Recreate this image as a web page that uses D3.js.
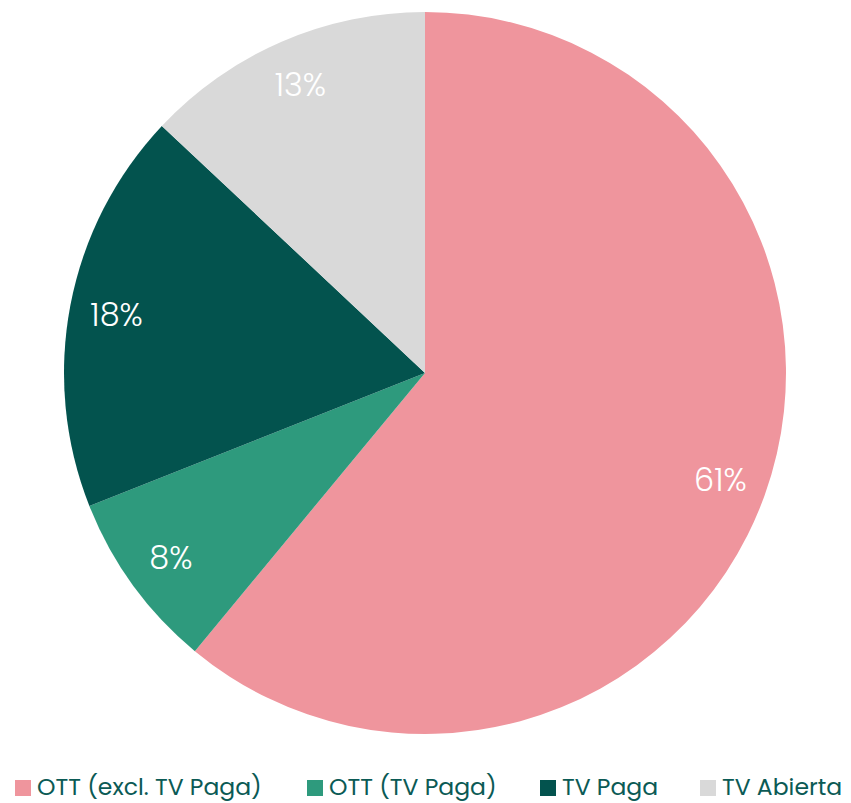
<!DOCTYPE html>
<html>
<head>
<meta charset="utf-8">
<script src="https://cdn.jsdelivr.net/npm/d3@7"></script>
<style>
  body { margin: 0; background: #fff; }
  svg { display: block; font-family: Poppins, Inter, 'Open Sans', sans-serif; }
</style>
</head>
<body>
<div class="canvas"></div>
<script>
// data
const categories = ['OTT (excl. TV Paga)', 'OTT (TV Paga)', 'TV Paga', 'TV Abierta']
const shares = [61, 8, 18, 13]
const colors = ['#ef959d', '#2e9a7d', '#03534e', '#d9d9d9']

const data = categories.map((name, i) => ({ name, value: shares[i] }))

const dims = { width: 851, height: 803, radius: 361 }
const center = { x: 425, y: 373 }

const svg = d3
  .select('.canvas')
  .append('svg')
  .attr('width', dims.width)
  .attr('height', dims.height)

const graph = svg
  .append('g')
  .attr('transform', `translate(${center.x}, ${center.y})`)

const colorScale = d3.scaleOrdinal().domain(categories).range(colors)

const pie = d3
  .pie()
  .sort(null)
  .value((d) => d.value)

const arcPath = d3.arc().innerRadius(0).outerRadius(dims.radius)
const labelArc = d3.arc().innerRadius(314).outerRadius(314)

const arcs = pie(data)

graph
  .selectAll('path')
  .data(arcs)
  .enter()
  .append('path')
  .attr('d', arcPath)
  .attr('fill', (d) => colorScale(d.data.name))

graph
  .selectAll('text.label')
  .data(arcs)
  .enter()
  .append('text')
  .attr('class', 'label')
  .attr('transform', (d) => `translate(${labelArc.centroid(d)})`)
  .attr('text-anchor', 'middle')
  .attr('dominant-baseline', 'central')
  .attr('fill', '#fff')
  .attr('font-size', 32)
  .attr('font-weight', 300)
  .text((d) => d.data.value + '%')

// legend
const legendX = [15, 307, 540, 700]
const legend = svg
  .append('g')
  .attr('transform', 'translate(0, 786)')

const items = legend
  .selectAll('g')
  .data(categories)
  .enter()
  .append('g')
  .attr('transform', (d, i) => `translate(${legendX[i]}, 0)`)

items
  .append('rect')
  .attr('x', 0)
  .attr('y', -6)
  .attr('width', 16)
  .attr('height', 16)
  .attr('fill', (d) => colorScale(d))

items
  .append('text')
  .attr('x', 22)
  .attr('y', 0)
  .attr('dominant-baseline', 'central')
  .attr('font-size', 23.5)
  .attr('fill', '#0b5a55')
  .text((d) => d)
</script>
</body>
</html>
